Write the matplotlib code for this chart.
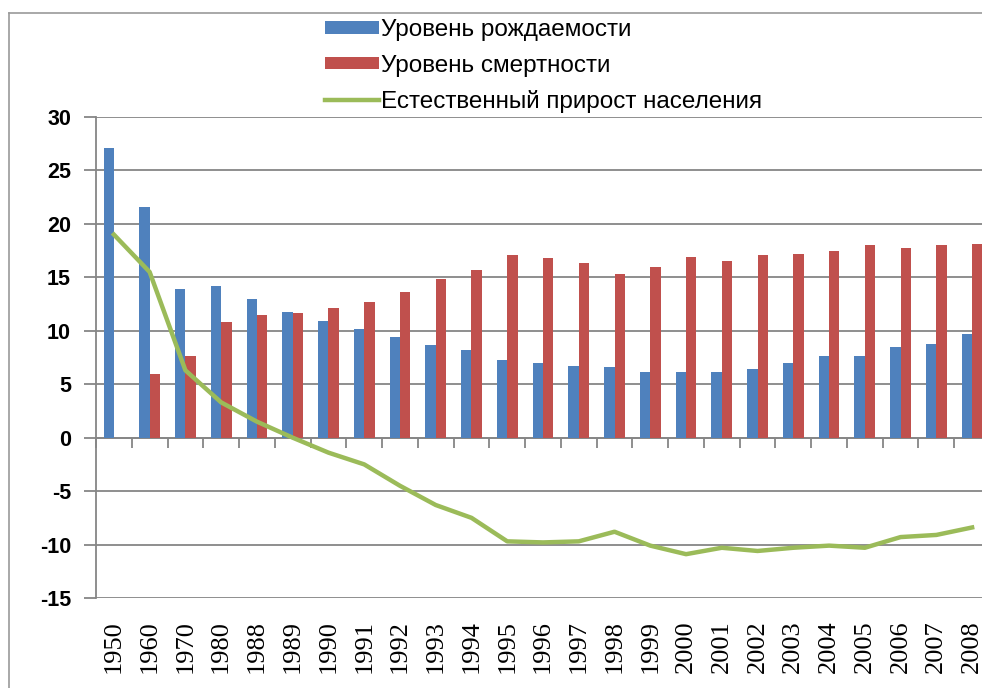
import matplotlib.pyplot as plt
import numpy as np
from matplotlib.lines import Line2D

plt.rcParams['axes.unicode_minus'] = False

years = ['1950', '1960', '1970', '1980', '1988', '1989', '1990', '1991', '1992',
         '1993', '1994', '1995', '1996', '1997', '1998', '1999', '2000', '2001',
         '2002', '2003', '2004', '2005', '2006', '2007', '2008']
birth_rate = [27.1, 21.6, 13.9, 14.2, 13.0, 11.8, 10.9, 10.2, 9.4, 8.7, 8.2, 7.3,
              7.0, 6.7, 6.6, 6.1, 6.1, 6.1, 6.4, 7.0, 7.6, 7.6, 8.5, 8.8, 9.7]
death_rate = [np.nan, 6.0, 7.6, 10.8, 11.5, 11.7, 12.1, 12.7, 13.6, 14.8, 15.7,
              17.1, 16.8, 16.3, 15.3, 16.0, 16.9, 16.5, 17.1, 17.2, 17.5, 18.0,
              17.7, 18.0, 18.1]
natural_growth = [19.0, 15.5, 6.3, 3.3, 1.5, 0.0, -1.4, -2.5, -4.5, -6.3, -7.5,
                  -9.7, -9.8, -9.7, -8.8, -10.1, -10.9, -10.3, -10.6, -10.3,
                  -10.1, -10.3, -9.3, -9.1, -8.4]

grid_col = '#868686'

fig = plt.figure(figsize=(9.82, 6.88), dpi=100)
# axes run a bit past the right edge, the original screenshot is cropped there
ax = fig.add_axes([96 / 982, 90 / 688, 894 / 982, 481 / 688])

x = np.arange(len(years))
width = 0.29
b1 = ax.bar(x - width / 2, birth_rate, width, color='#4F81BD', zorder=2)
b2 = ax.bar(x + width / 2, death_rate, width, color='#C0504D', zorder=2)
ln, = ax.plot(x, natural_growth, color='#9BBB59', lw=3.2, solid_joinstyle='round', zorder=3)

ax.set_xlim(-0.5, len(years) - 0.5)
ax.set_ylim(-15, 30)
ax.set_yticks(np.arange(-15, 31, 5))
ax.yaxis.grid(True, color=grid_col, lw=1.3, zorder=0)
ax.set_axisbelow(True)
for s in ['top', 'right', 'bottom']:
    ax.spines[s].set_visible(False)
ax.spines['left'].set_color(grid_col)
ax.spines['left'].set_linewidth(1.3)
ax.tick_params(axis='y', direction='out', length=9, width=1.3, color=grid_col, pad=9)
for lbl in ax.get_yticklabels():
    lbl.set_fontfamily('Liberation Sans')
    lbl.set_fontweight('bold')
    lbl.set_fontsize(15.5)

ax.set_xticks(x)
ax.set_xticklabels(years, rotation=90, fontfamily='Liberation Serif', fontsize=19)
ax.tick_params(axis='x', length=0, pad=16)

# category axis drawn at zero with tick marks between categories
zero_axis = ax.secondary_xaxis(15 / 45)
zero_axis.spines['bottom'].set_color(grid_col)
zero_axis.spines['bottom'].set_linewidth(1.3)
zero_axis.set_xticks(np.arange(len(years) + 1) - 0.5)
zero_axis.tick_params(direction='out', length=7, width=1.3, color=grid_col, labelbottom=False)

# outer chart frame
fig.add_artist(Line2D([9 / 982, 9 / 982], [0, 675 / 688], color='#9a9a9a', lw=1.2))
fig.add_artist(Line2D([9 / 982, 1], [675 / 688, 675 / 688], color='#9a9a9a', lw=1.2))

fig.legend([b1, b2, ln],
           ['Уровень рождаемости', 'Уровень смертности', 'Естественный прирост населения'],
           loc='upper left', bbox_to_anchor=(313 / 982, 681 / 688), frameon=False,
           prop={'family': 'Liberation Sans', 'size': 17.5}, handlelength=2.2,
           handleheight=0.4, handletextpad=0.1, labelspacing=0.55, borderpad=0)

fig.savefig('out.png', dpi=100)
